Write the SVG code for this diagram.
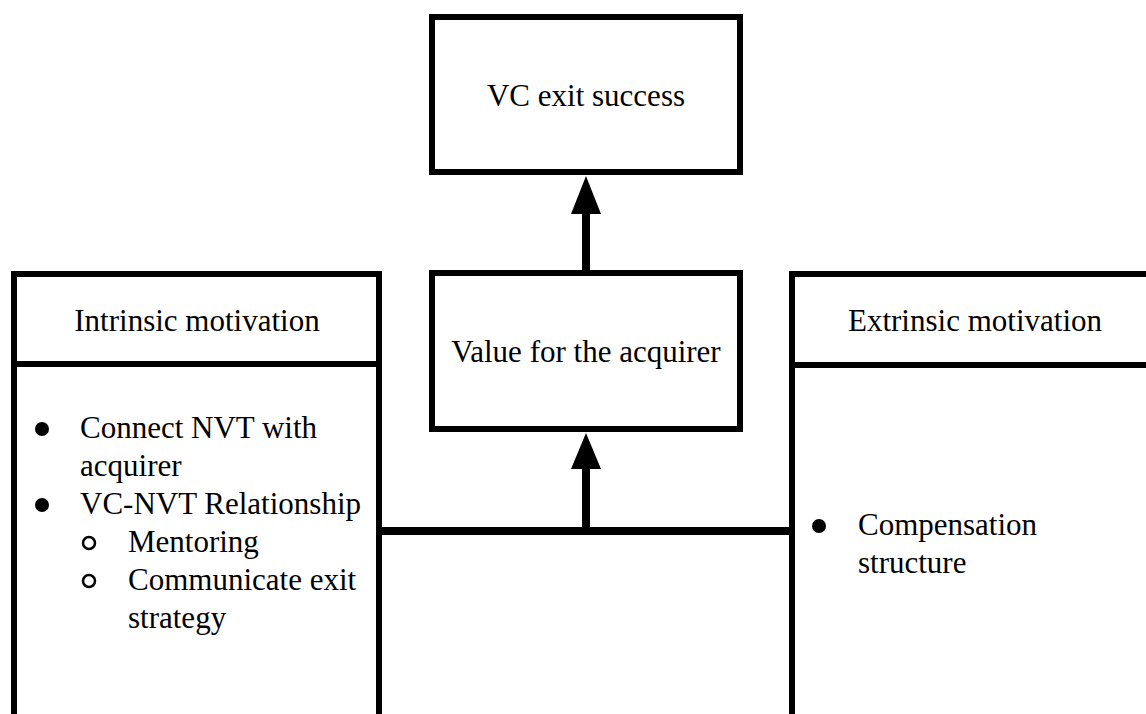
<svg xmlns="http://www.w3.org/2000/svg" width="1146" height="714" viewBox="0 0 1146 714">
  <style>
    .box { fill: #ffffff; stroke: #000000; stroke-width: 6; }
    .rule { stroke: #000000; stroke-width: 6; }
    .link { stroke: #000000; stroke-width: 8; fill: none; }
    .head { fill: #000000; }
    .t { font-family: "Liberation Serif", "Times New Roman", serif; font-size: 31px; fill: #000000; }
    .mid { text-anchor: middle; }
    .dot { fill: #000000; }
    .ring { fill: none; stroke: #000000; stroke-width: 2.5; }
  </style>
  <rect width="1146" height="714" fill="#ffffff"/>

  <!-- connectors -->
  <g id="connectors">
    <line class="link" x1="380" y1="531" x2="792" y2="531"/>
    <line class="link" x1="586" y1="531" x2="586" y2="464"/>
    <polygon class="head" points="586,433 571,469 601,469"/>
    <line class="link" x1="586" y1="272" x2="586" y2="210"/>
    <polygon class="head" points="586,176 571,214 601,214"/>
  </g>

  <!-- outcome -->
  <g id="vc-exit-success">
    <rect class="box" x="432" y="17" width="308" height="155"/>
    <text class="t mid" x="586" y="106">VC exit success</text>
  </g>

  <!-- mediator -->
  <g id="value-for-acquirer">
    <rect class="box" x="432" y="273" width="308" height="156"/>
    <text class="t mid" x="586" y="362">Value for the acquirer</text>
  </g>

  <!-- left panel -->
  <g id="intrinsic-motivation">
    <rect class="box" x="14" y="274" width="365" height="470"/>
    <line class="rule" x1="14" y1="364" x2="379" y2="364"/>
    <text class="t mid" x="197" y="331">Intrinsic motivation</text>
    <circle class="dot" cx="42" cy="429" r="7"/>
    <text class="t" x="80" y="438">Connect NVT with</text>
    <text class="t" x="80" y="476">acquirer</text>
    <circle class="dot" cx="42" cy="505" r="7"/>
    <text class="t" x="80" y="514">VC-NVT Relationship</text>
    <circle class="ring" cx="89" cy="543" r="6"/>
    <text class="t" x="128" y="552">Mentoring</text>
    <circle class="ring" cx="89" cy="581" r="6"/>
    <text class="t" x="128" y="590">Communicate exit</text>
    <text class="t" x="128" y="628">strategy</text>
  </g>

  <!-- right panel -->
  <g id="extrinsic-motivation">
    <rect class="box" x="792" y="274" width="370" height="470"/>
    <line class="rule" x1="792" y1="365" x2="1162" y2="365"/>
    <text class="t mid" x="975" y="331">Extrinsic motivation</text>
    <circle class="dot" cx="819" cy="526" r="7"/>
    <text class="t" x="858" y="535">Compensation</text>
    <text class="t" x="858" y="573">structure</text>
  </g>
</svg>
